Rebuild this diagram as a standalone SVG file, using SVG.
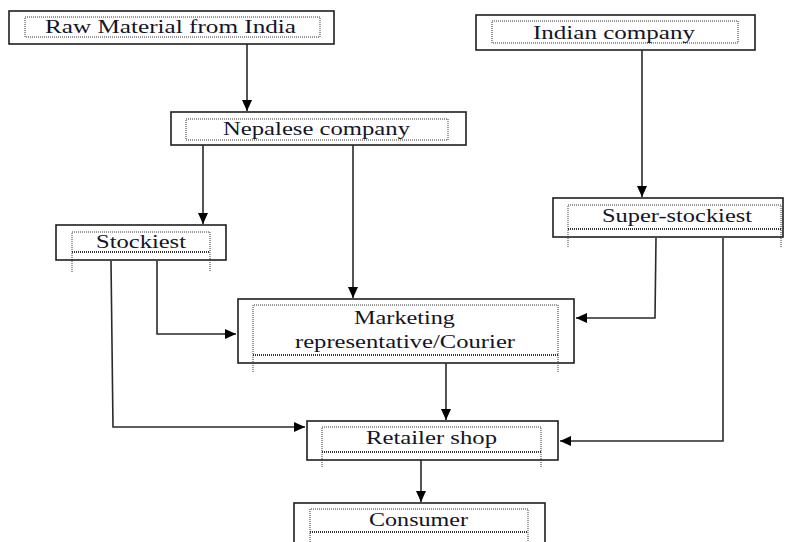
<svg xmlns="http://www.w3.org/2000/svg" width="792" height="542" viewBox="0 0 792 542">
<defs>
<marker id="ah" markerUnits="userSpaceOnUse" markerWidth="12" markerHeight="10" refX="11" refY="5" orient="auto">
<path d="M0,0 L11,5 L0,10 Z" fill="#000"/>
</marker>
<style>
.box{fill:#fff;stroke:#1e1e1e;stroke-width:1.6}
.dot{fill:none;stroke:#333;stroke-width:1;stroke-dasharray:1 1}
.dot2{fill:none;stroke:#333;stroke-width:1.8;stroke-dasharray:1 1}
.lbl{font-family:"Liberation Serif","Times New Roman",serif;font-size:19px;fill:#141428;text-anchor:middle}
.con{fill:none;stroke:#2a2a2a;stroke-width:1.6}
</style>
</defs>
<rect width="792" height="542" fill="#fff"/>

<g id="raw-material">
<rect class="box" x="9" y="11" width="325" height="33"/>
<rect class="dot" x="25" y="17" width="295" height="20"/>
<text class="lbl" x="170.5" y="33" textLength="251" lengthAdjust="spacingAndGlyphs">Raw Material from India</text>
</g>

<g id="indian-company">
<rect class="box" x="476" y="15" width="279" height="35"/>
<rect class="dot" x="492" y="21" width="246" height="22"/>
<text class="lbl" x="614" y="39" textLength="162" lengthAdjust="spacingAndGlyphs">Indian company</text>
</g>

<g id="nepalese-company">
<rect class="box" x="171" y="112" width="295" height="33"/>
<rect class="dot" x="186" y="119" width="262" height="21"/>
<text class="lbl" x="316.5" y="135" textLength="187" lengthAdjust="spacingAndGlyphs">Nepalese company</text>
</g>

<g id="stockiest">
<rect class="box" x="56" y="225" width="170" height="35"/>
<path class="dot" d="M72,272 V232 H210 V272"/>
<path class="dot2" d="M72,252 H210"/>
<text class="lbl" x="141" y="248" textLength="90" lengthAdjust="spacingAndGlyphs">Stockiest</text>
</g>

<g id="super-stockiest">
<rect class="box" x="553" y="198" width="230" height="39"/>
<path class="dot" d="M568,247 V205 H781 V247"/>
<path class="dot2" d="M568,229 H781"/>
<text class="lbl" x="677" y="222" textLength="150" lengthAdjust="spacingAndGlyphs">Super-stockiest</text>
</g>

<g id="marketing">
<rect class="box" x="238" y="299" width="336" height="64"/>
<path class="dot" d="M253,372 V305 H558 V372"/>
<path class="dot2" d="M253,355 H558"/>
<text class="lbl" x="404.5" y="324" textLength="101" lengthAdjust="spacingAndGlyphs">Marketing</text>
<text class="lbl" x="405" y="348" textLength="220" lengthAdjust="spacingAndGlyphs">representative/Courier</text>
</g>

<g id="retailer-shop">
<rect class="box" x="307" y="421" width="251" height="39"/>
<path class="dot" d="M322,467 V427 H541 V467"/>
<path class="dot2" d="M322,452 H541"/>
<text class="lbl" x="431.5" y="444" textLength="131" lengthAdjust="spacingAndGlyphs">Retailer shop</text>
</g>

<g id="consumer">
<rect class="box" x="294" y="503" width="251" height="45"/>
<path class="dot" d="M310,548 V509 H528 V548"/>
<path class="dot2" d="M310,532 H528"/>
<text class="lbl" x="418.5" y="526" textLength="99" lengthAdjust="spacingAndGlyphs">Consumer</text>
</g>

<g id="connectors">
<path class="con" d="M247,44 V111" marker-end="url(#ah)"/>
<path class="con" d="M203,145 V224" marker-end="url(#ah)"/>
<path class="con" d="M353,145 V298" marker-end="url(#ah)"/>
<path class="con" d="M642,50 V197" marker-end="url(#ah)"/>
<path class="con" d="M157,261 V334 H236" marker-end="url(#ah)"/>
<path class="con" d="M111,261 L113,427 H305" marker-end="url(#ah)"/>
<path class="con" d="M656,238 L655,318 H576" marker-end="url(#ah)"/>
<path class="con" d="M723,238 V441 H560" marker-end="url(#ah)"/>
<path class="con" d="M446,363 V420" marker-end="url(#ah)"/>
<path class="con" d="M421,460 V502" marker-end="url(#ah)"/>
</g>
</svg>
